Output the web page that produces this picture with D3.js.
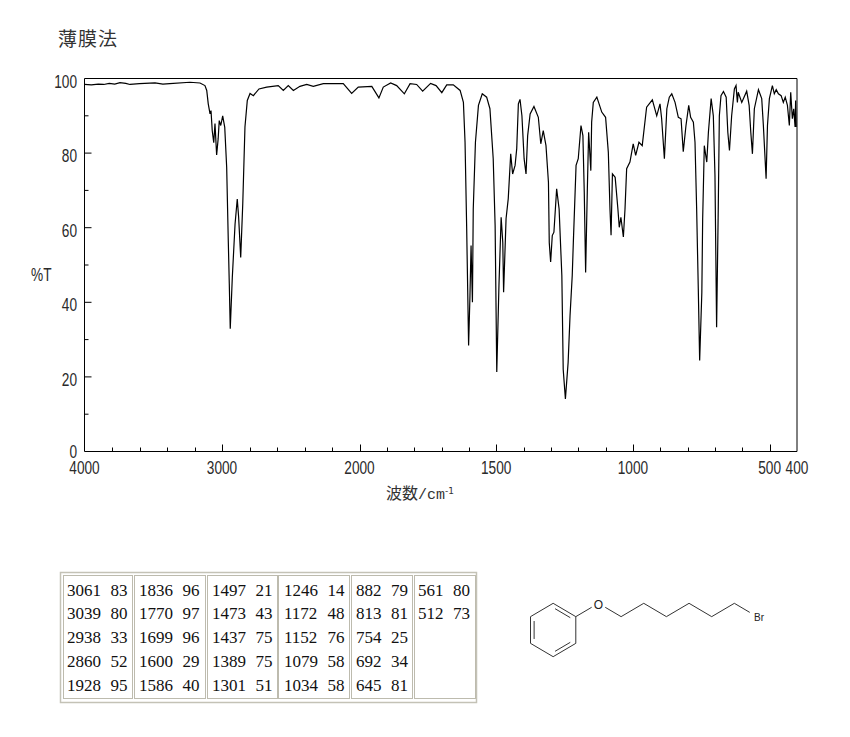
<!DOCTYPE html>
<html>
<head>
<meta charset="utf-8">
<script src="https://cdn.jsdelivr.net/npm/d3@7"></script>
<style>
  body { margin: 0; background: #fff; }
  svg { display: block; }
  .tick-label { font-family: "Liberation Sans", sans-serif; font-size: 19px; fill: #2a2a2a; }
  .cjk { font-family: "Noto Sans CJK JP", sans-serif; fill: #333; }
  .cell { font-family: "Liberation Serif", serif; font-size: 17px; fill: #111; }
</style>
</head>
<body>
<svg id="chart" width="850" height="737"></svg>
<script>
// spectrum: [wavenumber, %T]
const spectrum = [
  [4000,98.4],[3950,98.3],[3900,98.5],[3860,98.4],[3820,98.7],[3780,98.5],[3742,98.9],[3700,98.7],[3669,98.4],[3600,98.6],[3487,98.8],[3430,98.5],[3380,98.6],[3233,99],[3160,98.8],[3124,98.1],
  [3111,96.8],[3100,93.2],[3087,90.5],[3080,91.4],[3071,86],[3060,82.8],[3051,87.9],[3039,79.5],[3028,83.8],[3020,88.7],
  [3009,87.4],[2995,90],[2980,86.9],[2966,76.2],[2954,56],[2947,45],[2940,32.9],[2925,46.7],[2905,61],[2889,67.7],
  [2879,62.8],[2864,52],[2849,66.4],[2833,87],[2816,94.1],[2796,96],[2772,95.4],[2731,97.2],[2675,97.7],[2591,98.1],
  [2554,96.8],[2518,98.1],[2481,96.8],[2433,97.9],[2384,98.4],[2336,97.9],[2263,98.6],[2118,98.6],[2057,96],[2009,97.7],
  [1955,97.9],[1929,94.8],[1913,97.7],[1886,98.8],[1864,98.1],[1836,95.9],[1815,98.6],[1791,98.4],[1769,96.6],[1740,98.7],
  [1720,98.1],[1699,96.2],[1681,98.3],[1657,98.3],[1632,96.8],[1620,93.6],[1614,82.9],[1608,59.7],[1601,28.4],[1596,41.8],
  [1592,55.2],[1587,40],[1584,65],[1576,82.9],[1565,92.8],[1551,95.9],[1535,95],[1523,91.9],[1511,78.5],[1504,60.6],
  [1498,21.3],[1490,44.5],[1482,62.8],[1476,56],[1473,42.7],[1464,62.4],[1456,67.8],[1447,79.8],[1440,74.4],[1431,76.7],
  [1425,81.2],[1419,93.2],[1413,94.4],[1406,90],[1398,78.5],[1391,74.4],[1385,84.7],[1376,90.5],[1362,92.5],[1346,89.6],
  [1337,82.5],[1328,86],[1318,82],[1309,72.2],[1306,56],[1301,50.8],[1295,57.9],[1289,58.8],[1279,70.4],[1270,65],
  [1260,47.2],[1255,22],[1247,14.1],[1237,23.9],[1230,36.5],[1222,47.2],[1218,56],[1208,76.7],[1200,78.5],[1190,87.4],
  [1183,84.7],[1178,69.5],[1173,48],[1167,69.5],[1162,85.6],[1154,75.3],[1151,88.3],[1145,93.6],[1132,95],[1114,91],
  [1100,89.6],[1090,80.2],[1084,65],[1080,58],[1075,74.4],[1065,73.5],[1055,65],[1050,60.1],[1044,62.8],[1035,57.5],
  [1029,65],[1023,75.8],[1011,77.6],[999,82.5],[990,79.4],[978,82.9],[966,82],[950,92.3],[929,94.3],[913,90],
  [901,93.2],[895,89.2],[885,78.5],[876,91.9],[867,95],[858,95.9],[846,93.6],[834,89.6],[824,89.2],[816,80.4],
  [806,87.4],[796,92.8],[789,89.6],[779,88.3],[773,82.9],[767,65],[761,43.6],[756,24.4],[748,42.7],[745,62.4],
  [739,82],[730,77.6],[724,85.6],[714,94.6],[706,90],[700,74],[694,33.3],[688,65],[684,90],[678,95.4],
  [669,96.5],[659,95],[653,85.6],[647,80.7],[639,90],[629,97.2],[623,98.1],[618,93.6],[615,96.3],[602,93.6],
  [584,96.6],[575,92.8],[569,85.6],[563,79.8],[556,91.9],[541,97],[529,94.6],[523,87.4],[513,73.1],[508,87.4],
  [501,94.6],[490,98.1],[483,95.9],[476,97],[468,95.9],[458,95.4],[450,93.6],[443,95],[435,92.8],[428,87.4],
  [423,96.3],[417,89.2],[412,91.9],[407,87],[405,94.1],[403,87]
];

const xMajor = [4000, 3000, 2000, 1500, 1000, 500, 400];
const xMinorHigh = d3.range(4000, 2000, -200);
const xMinorLow = d3.range(2000, 400, -100);
const yMajor = [0, 20, 40, 60, 80, 100];
const yMinor = [10, 30, 50, 70, 90];

// peak table, one list per column
const peakCols = [
  [["3061",83],["3039",80],["2938",33],["2860",52],["1928",95]],
  [["1836",96],["1770",97],["1699",96],["1600",29],["1586",40]],
  [["1497",21],["1473",43],["1437",75],["1389",75],["1301",51]],
  [["1246",14],["1172",48],["1152",76],["1079",58],["1034",58]],
  [["882",79],["813",81],["754",25],["692",34],["645",81]],
  [["561",80],["512",73]]
];
const colEdges = [[63,132],[134,205],[207,277],[278,349],[351,412],[414,475]];
const textStart = [67, 139, 212, 284, 356, 418];

const svg = d3.select("#chart");

// scales, the axis is stretched twice below 2000
const x = d3.scaleLinear().domain([4000, 2000, 400]).range([84.5, 359.5, 797]);
const y = d3.scaleLinear().domain([0, 100]).range([451.5, 78.5]);
const squeeze = 0.72; // no narrow font here, so squeeze the tick labels

//#region frame + ticks
svg.append("path")
  .attr("d", `M${x(4000)},${y(0)}V${y(100)}H${x(400)}V${y(0)}Z`)
  .attr("fill", "none").attr("stroke", "#000");

const tickG = svg.append("g").attr("stroke", "#000");
tickG.selectAll(".xm").data(xMinorHigh.concat(xMinorLow).filter(d => !xMajor.includes(d)))
  .join("line").attr("class", "xm").attr("x1", d => Math.round(x(d)) + .5).attr("x2", d => Math.round(x(d)) + .5)
  .attr("y1", y(0)).attr("y2", y(0) - 4);
tickG.selectAll(".xM").data(xMajor.slice(1, -1))
  .join("line").attr("class", "xM").attr("x1", d => Math.round(x(d)) + .5).attr("x2", d => Math.round(x(d)) + .5)
  .attr("y1", y(0)).attr("y2", y(0) - 7);
tickG.selectAll(".ym").data(yMinor)
  .join("line").attr("class", "ym").attr("x1", x(4000)).attr("x2", x(4000) + 4)
  .attr("y1", d => y(d)).attr("y2", d => y(d));
tickG.selectAll(".yM").data(yMajor.slice(1, -1))
  .join("line").attr("class", "yM").attr("x1", x(4000)).attr("x2", x(4000) + 7)
  .attr("y1", d => y(d)).attr("y2", d => y(d));

svg.selectAll(".xl").data(xMajor).join("text")
  .attr("class", "tick-label xl").attr("text-anchor", "middle")
  .attr("transform", d => `translate(${x(d)},474) scale(${squeeze},1)`).text(d => d);
svg.selectAll(".yl").data(yMajor).join("text")
  .attr("class", "tick-label yl").attr("text-anchor", "end")
  .attr("transform", d => `translate(77,${y(d) + (d === 0 ? 6.5 : 9)}) scale(${squeeze},1)`).text(d => d);
svg.append("text").attr("class", "tick-label")
  .attr("transform", `translate(31,281) scale(${squeeze},1)`).text("%T");
//#endregion

// spectrum line
svg.append("path").datum(spectrum)
  .attr("fill", "none").attr("stroke", "#000").attr("stroke-width", 1.2)
  .attr("d", d3.line().x(d => x(d[0])).y(d => y(d[1])));

// titles
svg.append("text").attr("class", "cjk").attr("x", 58).attr("y", 46)
  .style("font-size", "19px").style("letter-spacing", "1px").text("薄膜法");
const xt = svg.append("text").attr("class", "cjk").attr("x", 386).attr("y", 499).style("font-size", "16px");
xt.append("tspan").text("波数");
xt.append("tspan").style("font-size", "15px").style("font-family", "'Liberation Mono', monospace").text("/cm");
xt.append("tspan").style("font-size", "9px").attr("dy", -5).style("font-family", "'DejaVu Sans', sans-serif").text("-1");

//#region peak table
const tableTop = 572, tableBottom = 702;
svg.append("rect").attr("x", 60.5).attr("y", tableTop + .5)
  .attr("width", 416).attr("height", tableBottom - tableTop)
  .attr("fill", "none").attr("stroke", "#c4c2b6").attr("stroke-width", 1.5);
const rowY = d3.scalePoint().domain(d3.range(5)).range([595.5, 691]);

const cols = svg.selectAll(".col").data(peakCols).join("g").attr("class", "col");
cols.append("rect")
  .attr("x", (d, i) => colEdges[i][0] + .5).attr("y", 575.5)
  .attr("width", (d, i) => colEdges[i][1] - colEdges[i][0]).attr("height", 123)
  .attr("fill", "none").attr("stroke", "#bdbbae");
cols.each(function (col, i) {
  const g = d3.select(this);
  g.selectAll(".wn").data(col).join("text").attr("class", "cell wn")
    .attr("x", textStart[i]).attr("y", (d, j) => rowY(j)).text(d => d[0]);
  // the %T value follows the wavenumber after a fixed gap
  g.selectAll(".tv").data(col).join("text").attr("class", "cell tv")
    .attr("x", d => textStart[i] + d[0].length * 8.5 + 9.5).attr("y", (d, j) => rowY(j)).text(d => d[1]);
});
//#endregion

//#region structure, atoms on a half-bond grid
const ringAtoms = [[1,0],[2,1],[2,3],[1,4],[0,3],[0,1]];
const innerBonds = [[0,1],[2,3],[4,5]];
const chainAtoms = [[2,1],[3,0],[4,1],[5,0],[6,1],[7,0],[8,1],[9,0],[10,1]];
const mx = d3.scaleLinear().domain([0, 10]).range([530.5, 757]);
const my = d3.scaleLinear().domain([0, 4]).range([603.3, 656.7]);
const mol = svg.append("g").attr("stroke", "#333").attr("fill", "none").attr("stroke-width", 1);

mol.append("path").datum(ringAtoms)
  .attr("d", d3.line().x(d => mx(d[0])).y(d => my(d[1])).curve(d3.curveLinearClosed));
mol.selectAll(".inner").data(innerBonds).join("line").attr("class", "inner")
  .each(function ([a, b]) {
    // shift the double bond line towards the ring centre
    const c = [1, 2], k = 0.84, t = 0.1;
    const A = ringAtoms[a], B = ringAtoms[b];
    const p = u => [mx(c[0] + (u[0] - c[0]) * k), my(c[1] + (u[1] - c[1]) * k)];
    const P = p(A), Q = p(B);
    d3.select(this)
      .attr("x1", P[0] + (Q[0] - P[0]) * t).attr("y1", P[1] + (Q[1] - P[1]) * t)
      .attr("x2", Q[0] - (Q[0] - P[0]) * t).attr("y2", Q[1] - (Q[1] - P[1]) * t);
  });
mol.selectAll(".bond").data(d3.pairs(chainAtoms)).join("line").attr("class", "bond")
  .each(function ([a, b], i, nodes) {
    // bonds stop short of the hetero atoms
    const s = i === 1 ? 0.3 : 0, e = i === 0 ? 0.7 : i === nodes.length - 1 ? 0.68 : 1;
    const X = t => mx(a[0] + (b[0] - a[0]) * t), Y = t => my(a[1] + (b[1] - a[1]) * t);
    d3.select(this).attr("x1", X(s)).attr("y1", Y(s)).attr("x2", X(e)).attr("y2", Y(e));
  });
svg.append("text").attr("x", mx(3)).attr("y", my(0) + 6).attr("text-anchor", "middle")
  .style("font", "12px 'Liberation Sans', sans-serif").attr("fill", "#222").text("O");
svg.append("text").attr("x", mx(10) - 3).attr("y", my(1) + 4)
  .style("font", "10px 'Liberation Sans', sans-serif").attr("fill", "#222").text("Br");
//#endregion
</script>
</body>
</html>
